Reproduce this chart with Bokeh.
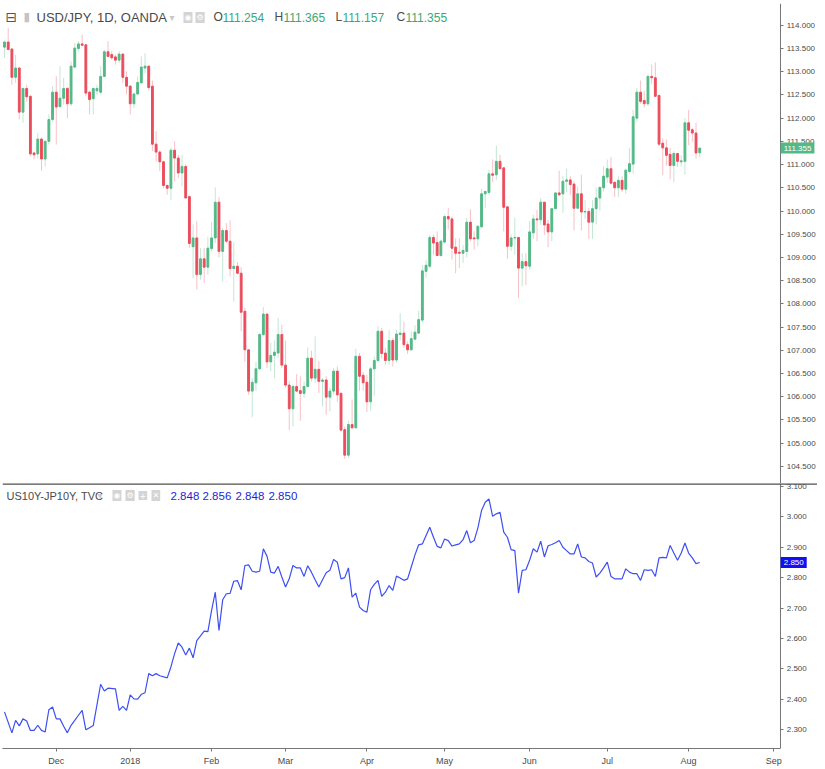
from bokeh.plotting import figure
from bokeh.models import (ColumnDataSource, Range1d, FixedTicker, NumeralTickFormatter,
                          Label, Span)
from bokeh.layouts import column
from bokeh.embed import file_html
from bokeh.resources import INLINE

# ---------------- data ----------------
opens = [113.53, 113.64, 113.49, 112.88, 113.08, 112.13, 112.64, 112.47, 111.25, 111.23,
         111.55, 111.12, 111.50, 111.97, 112.56, 112.25, 112.43, 112.64, 112.31, 113.10,
         113.50, 113.60, 113.58, 112.56, 112.42, 112.59, 112.56, 112.90, 113.43, 113.37,
         113.32, 113.25, 113.38, 112.88, 112.69, 112.31, 112.52, 112.76, 113.08, 113.12,
         112.69, 111.44, 111.27, 111.06, 110.55, 110.49, 111.31, 111.14, 110.82, 110.96,
         110.31, 109.23, 109.42, 108.63, 108.97, 108.79, 109.19, 109.42, 110.19, 109.13,
         109.58, 109.35, 108.76, 108.81, 108.66, 107.84, 107.01, 106.12, 106.30, 106.60,
         107.34, 107.78, 106.75, 106.89, 106.94, 107.34, 106.68, 106.25, 105.74, 106.22,
         106.13, 106.07, 106.22, 106.83, 106.40, 106.59, 106.33, 106.36, 105.99, 106.12,
         106.55, 106.07, 105.29, 104.74, 105.40, 105.33, 106.87, 106.46, 106.31, 105.89,
         106.60, 106.78, 107.41, 106.94, 106.78, 107.21, 106.79, 107.34, 107.37, 107.12,
         107.01, 107.24, 107.37, 107.65, 108.70, 108.81, 109.43, 109.32, 109.04, 109.33,
         109.88, 109.83, 109.22, 109.11, 109.09, 109.13, 109.76, 109.42, 109.40, 109.66,
         110.37, 110.40, 110.80, 110.78, 111.07, 110.93, 110.09, 109.24, 109.42, 109.43,
         108.77, 108.91, 108.81, 109.53, 109.83, 109.81, 110.19, 109.72, 109.55, 110.05,
         110.39, 110.37, 110.64, 110.67, 110.58, 110.06, 110.37, 109.98, 109.99, 109.76,
         110.05, 110.28, 110.50, 110.73, 110.91, 110.62, 110.50, 110.66, 110.47, 110.85,
         111.01, 112.00, 112.56, 112.38, 112.31, 112.90, 112.87, 112.49, 111.46, 111.36,
         111.22, 110.98, 111.24, 111.06, 111.07, 111.90, 111.75, 111.68, 111.254]
highs = [113.67, 113.94, 113.50, 113.37, 113.10, 112.66, 112.72, 112.50, 111.27, 111.68,
         111.58, 111.52, 112.08, 112.69, 112.90, 113.12, 112.87, 112.67, 113.22, 113.62,
         113.66, 113.80, 113.60, 112.58, 112.66, 112.72, 113.12, 113.47, 113.66, 113.44,
         113.37, 113.44, 113.40, 113.01, 112.71, 112.55, 112.90, 113.33, 113.40, 113.14,
         112.81, 111.72, 111.30, 111.08, 110.57, 111.36, 111.50, 111.21, 111.21, 111.00,
         110.33, 109.71, 109.78, 109.20, 109.20, 109.45, 109.76, 110.51, 110.30, 109.63,
         109.74, 109.80, 109.33, 108.90, 108.79, 107.92, 107.01, 106.40, 106.75, 107.37,
         107.93, 107.78, 107.16, 107.21, 107.70, 107.55, 107.21, 106.33, 106.26, 106.49,
         106.44, 106.33, 107.06, 106.99, 107.30, 106.76, 106.40, 106.44, 106.20, 106.62,
         106.65, 106.10, 105.36, 105.48, 105.94, 107.03, 106.94, 106.53, 106.47, 106.65,
         106.87, 107.52, 107.48, 107.05, 107.43, 107.26, 107.44, 107.80, 107.62, 107.19,
         107.41, 107.54, 107.85, 108.84, 108.95, 109.49, 109.49, 109.56, 109.38, 109.92,
         110.06, 109.88, 109.41, 109.41, 109.27, 109.85, 110.04, 109.56, 109.70, 110.48,
         110.44, 110.89, 111.11, 111.41, 111.21, 110.93, 110.09, 109.49, 109.85, 109.43,
         109.09, 109.09, 109.78, 109.92, 110.03, 110.28, 110.19, 109.81, 110.05, 110.40,
         110.87, 110.75, 110.91, 110.75, 110.64, 110.53, 110.78, 110.23, 110.06, 110.23,
         110.51, 110.51, 110.96, 111.11, 111.16, 110.62, 110.75, 110.75, 110.91, 111.36,
         112.18, 112.65, 112.81, 112.59, 112.94, 113.15, 113.20, 112.49, 111.56, 111.54,
         111.36, 111.29, 111.25, 111.20, 112.00, 112.18, 111.79, 111.90, 111.365]
lows = [113.30, 113.46, 112.72, 112.76, 111.97, 111.90, 112.36, 111.18, 111.11, 111.14,
        110.87, 110.96, 111.43, 111.93, 111.43, 112.22, 112.29, 112.00, 112.26, 113.08,
        113.44, 113.55, 112.47, 112.08, 112.08, 112.50, 112.51, 112.88, 113.32, 113.26,
        113.15, 113.19, 112.76, 112.51, 112.08, 112.22, 112.50, 112.75, 112.97, 112.60,
        111.29, 111.07, 110.86, 110.49, 110.35, 110.24, 110.64, 110.71, 110.53, 110.26,
        109.20, 108.56, 108.31, 108.52, 108.45, 108.63, 109.13, 109.31, 109.00, 108.48,
        109.31, 108.59, 108.05, 108.64, 107.41, 106.75, 106.04, 105.56, 106.13, 106.58,
        107.30, 106.62, 106.55, 106.40, 106.83, 106.62, 106.19, 105.28, 105.36, 106.10,
        105.48, 105.97, 106.20, 106.33, 106.30, 106.08, 105.79, 105.61, 105.69, 106.04,
        105.89, 105.25, 104.66, 104.68, 105.31, 105.31, 106.13, 106.13, 105.67, 105.70,
        106.01, 106.75, 106.82, 106.69, 106.69, 106.65, 106.73, 107.21, 107.05, 106.92,
        106.99, 107.21, 107.35, 107.60, 108.56, 108.77, 109.06, 109.04, 109.02, 109.31,
        109.60, 108.95, 108.66, 108.77, 108.88, 109.00, 109.35, 109.17, 109.24, 109.63,
        110.06, 110.35, 110.62, 110.67, 110.90, 109.56, 108.97, 109.14, 109.06, 108.13,
        108.38, 108.40, 108.74, 109.40, 109.35, 109.70, 109.49, 109.22, 109.35, 110.05,
        110.32, 109.96, 110.41, 110.35, 109.58, 110.06, 109.58, 109.83, 109.40, 109.40,
        109.71, 110.01, 110.42, 110.60, 110.57, 110.30, 110.30, 110.41, 110.37, 110.80,
        110.80, 111.93, 112.31, 112.23, 112.26, 112.74, 112.47, 111.40, 110.77, 110.98,
        110.68, 110.62, 110.96, 110.96, 110.78, 111.42, 111.50, 111.13, 111.157]
closes = [113.64, 113.48, 112.88, 113.08, 112.13, 112.64, 112.46, 111.23, 111.21, 111.55,
          111.12, 111.50, 111.97, 112.56, 112.24, 112.43, 112.64, 112.31, 113.12, 113.51,
          113.60, 113.57, 112.54, 112.40, 112.64, 112.64, 112.90, 113.43, 113.33, 113.30,
          113.25, 113.38, 112.88, 112.69, 112.31, 112.52, 112.77, 113.10, 113.12, 112.66,
          111.44, 111.27, 111.06, 110.55, 110.49, 111.31, 111.14, 110.82, 110.96, 110.28,
          109.30, 109.42, 108.63, 108.97, 108.79, 109.20, 109.42, 110.19, 109.13, 109.58,
          109.35, 108.76, 108.81, 108.66, 107.82, 107.01, 106.12, 106.31, 106.60, 107.34,
          107.78, 106.75, 106.89, 106.96, 107.34, 106.68, 106.25, 105.74, 106.22, 106.12,
          106.07, 106.22, 106.83, 106.40, 106.59, 106.33, 106.36, 105.99, 106.12, 106.55,
          106.04, 105.28, 104.74, 105.40, 105.33, 106.87, 106.44, 106.30, 105.89, 106.60,
          106.78, 107.41, 106.93, 106.78, 107.21, 106.79, 107.35, 107.37, 107.12, 107.01,
          107.25, 107.39, 107.66, 108.71, 108.83, 109.43, 109.31, 109.04, 109.35, 109.88,
          109.83, 109.20, 109.09, 109.09, 109.15, 109.76, 109.40, 109.40, 109.67, 110.37,
          110.42, 110.80, 110.77, 111.07, 110.91, 110.08, 109.24, 109.42, 109.43, 108.77,
          108.91, 108.82, 109.55, 109.83, 109.81, 110.19, 109.70, 109.55, 110.05, 110.39,
          110.35, 110.64, 110.67, 110.57, 110.06, 110.37, 109.98, 109.99, 109.76, 110.05,
          110.28, 110.51, 110.75, 110.91, 110.60, 110.50, 110.66, 110.47, 110.88, 111.02,
          112.03, 112.56, 112.36, 112.31, 112.90, 112.87, 112.47, 111.44, 111.36, 111.20,
          110.98, 111.24, 111.07, 111.08, 111.90, 111.74, 111.68, 111.25, 111.355]

spread_idx = [0, 2, 3, 4, 5, 6, 7, 8, 9, 10, 11, 12, 13, 14, 15, 16, 17, 18, 19, 20,
              21, 22, 23, 24, 26, 27, 28, 30, 31, 32, 33, 34, 35, 36, 37, 38, 39, 40, 41, 42,
              44, 45, 46, 47, 48, 49, 50, 51, 52, 53, 54, 55, 56, 57, 58, 59, 60, 61, 62, 63,
              64, 65, 66, 67, 68, 69, 70, 71, 72, 73, 74, 75, 76, 77, 78, 79, 80, 81, 82, 83,
              84, 85, 86, 87, 88, 89, 90, 91, 92, 93, 94, 95, 96, 97, 98, 99, 100, 101, 102, 103,
              104, 105, 106, 107, 108, 109, 110, 111, 112, 113, 114, 115, 116, 117, 118, 119,
              120, 121, 122, 123, 124, 125, 126, 127, 128, 129, 130, 131, 132, 133, 134, 135,
              136, 137, 138, 139, 140, 141, 142, 143, 144, 145, 146, 147, 148, 149, 150, 151,
              152, 153, 154, 155, 156, 157, 158, 159, 160, 161, 162, 163, 164, 165, 166, 167,
              168, 169, 170, 171, 172, 173, 174, 175, 176, 177, 178, 179, 180, 181, 182, 183,
              184, 185, 186, 187, 188]
spread_val = [2.358, 2.289, 2.330, 2.312, 2.335, 2.328, 2.297, 2.297, 2.314, 2.297,
              2.292, 2.365, 2.374, 2.335, 2.335, 2.311, 2.289, 2.314, 2.330, 2.347,
              2.363, 2.299, 2.306, 2.313, 2.449, 2.427, 2.436, 2.434, 2.363, 2.376,
              2.363, 2.414, 2.401, 2.400, 2.416, 2.421, 2.484, 2.477, 2.484, 2.477,
              2.470, 2.506, 2.550, 2.585, 2.571, 2.545, 2.568, 2.536, 2.593, 2.608,
              2.624, 2.622, 2.692, 2.752, 2.626, 2.727, 2.747, 2.748, 2.788, 2.790,
              2.760, 2.840, 2.842, 2.821, 2.818, 2.821, 2.895, 2.870, 2.818, 2.815,
              2.837, 2.802, 2.769, 2.796, 2.840, 2.832, 2.832, 2.804, 2.839, 2.818,
              2.793, 2.769, 2.793, 2.816, 2.824, 2.860, 2.851, 2.796, 2.800, 2.832,
              2.736, 2.749, 2.703, 2.692, 2.686, 2.760, 2.778, 2.791, 2.738, 2.752,
              2.774, 2.758, 2.805, 2.799, 2.791, 2.796, 2.835, 2.875, 2.908, 2.911,
              2.939, 2.966, 2.933, 2.903, 2.898, 2.927, 2.922, 2.904, 2.908, 2.911,
              2.925, 2.955, 2.915, 2.922, 2.963, 3.021, 3.048, 3.059, 3.002, 3.010,
              3.015, 2.950, 2.933, 2.892, 2.889, 2.749, 2.824, 2.826, 2.857, 2.895,
              2.884, 2.920, 2.868, 2.905, 2.909, 2.915, 2.922, 2.900, 2.889, 2.878,
              2.878, 2.911, 2.868, 2.865, 2.853, 2.848, 2.802, 2.815, 2.832, 2.851,
              2.804, 2.796, 2.796, 2.796, 2.829, 2.818, 2.813, 2.813, 2.791, 2.826,
              2.824, 2.826, 2.804, 2.865, 2.867, 2.865, 2.906, 2.881, 2.857, 2.881,
              2.914, 2.881, 2.865, 2.846, 2.850]

month_ticks = [14, 34, 56, 76, 98, 119, 142, 163, 185, 208]
month_labels = ["Dec", "2018", "Feb", "Mar", "Apr", "May", "Jun", "Jul", "Aug", "Sep"]
price_ticks = [104.5, 105.0, 105.5, 106.0, 106.5, 107.0, 107.5, 108.0, 108.5, 109.0,
               109.5, 110.0, 110.5, 111.0, 111.5, 112.0, 112.5, 113.0, 113.5, 114.0]
spread_ticks = [2.3, 2.4, 2.5, 2.6, 2.7, 2.8, 2.9, 3.0, 3.1]

last_ohlc = ["111.254", "111.365", "111.157", "111.355"]
spread_ohlc = ["2.848", "2.856", "2.848", "2.850"]

# ---------------- styles ----------------
UP = "#53b987"
DOWN = "#eb4d5c"
AX = "#777777"
TXT = "#4a4a4a"
BLUE_LINE = "#3d4ff2"
BLUE_TXT = "#1f1fd6"
FONT = "Liberation Sans"

AXIS_AT = 209.9            # bar position where the price scale sits
x_rng = Range1d(-0.54, 219.85)

p1 = figure(frame_width=815, frame_height=480, x_range=x_rng,
            y_range=Range1d(104.13, 114.47), output_backend="svg",
            toolbar_location=None, y_axis_location="right", x_axis_location=None,
            min_border_left=2, min_border_top=3, min_border_bottom=0,
            min_border_right=0)
p2 = figure(frame_width=815, frame_height=265, x_range=x_rng,
            y_range=Range1d(2.2375, 3.1099), output_backend="svg",
            toolbar_location=None, y_axis_location="right",
            min_border_left=2, min_border_top=0, min_border_bottom=0,
            min_border_right=0)

for p in (p1, p2):
    p.grid.visible = False
    p.outline_line_color = None
    p.background_fill_color = "white"
    p.border_fill_color = "white"
    for ax in p.yaxis:
        ax.fixed_location = AXIS_AT
        ax.formatter = NumeralTickFormatter(format="0.000")
        ax.major_label_text_font_size = "8px"
        ax.major_label_text_font = FONT
        ax.major_label_text_color = TXT
        ax.axis_line_color = AX
        ax.major_tick_line_color = AX
        ax.major_tick_out = 3
        ax.major_tick_in = 0
        ax.minor_tick_line_color = None
        ax.major_label_standoff = 3

p1.yaxis.ticker = FixedTicker(ticks=price_ticks)
p2.yaxis.ticker = FixedTicker(ticks=spread_ticks)

xa = p2.xaxis[0]
xa.ticker = FixedTicker(ticks=month_ticks)
xa.major_label_overrides = {t: l for t, l in zip(month_ticks, month_labels)}
xa.major_label_text_font_size = "9px"
xa.major_label_text_font = FONT
xa.major_label_text_color = TXT
xa.axis_line_color = AX
xa.major_tick_line_color = AX
xa.major_tick_out = 3
xa.major_tick_in = 0
xa.minor_tick_line_color = None
xa.major_label_standoff = 4
xa.bounds = (-0.54, AXIS_AT)

# ---------------- candles ----------------
up = dict(x=[], o=[], h=[], l=[], c=[])
dn = dict(x=[], o=[], h=[], l=[], c=[])
for i, (o, h, l, c) in enumerate(zip(opens, highs, lows, closes)):
    d = up if c >= o else dn
    d["x"].append(i); d["o"].append(o); d["h"].append(h); d["l"].append(l); d["c"].append(c)

for d, col in ((up, UP), (dn, DOWN)):
    src = ColumnDataSource(d)
    p1.segment(x0="x", y0="h", x1="x", y1="l", source=src, line_color=col,
               line_alpha=0.35, line_width=1)
    p1.vbar(x="x", width=0.5, top="o", bottom="c", source=src, fill_color=col,
            line_color=col, line_width=1)

# ---------------- spread line ----------------
p2.line(spread_idx, spread_val, line_color=BLUE_LINE, line_width=1.2)

# separator between panes
p2.add_layout(Span(location=3.1099, dimension="width", line_color="#505050", line_width=2.5))

# ---------------- header texts ----------------
def lab(p, x, y, text, color=TXT, size="12px", bg=None, pad=0, font=FONT):
    kw = {}
    if bg is not None:
        kw["background_fill_color"] = bg
        kw["padding"] = pad
    p.add_layout(Label(x=x, y=y, x_units="screen", text=text, text_color=color,
                       text_font_size=size, text_font=font, text_baseline="middle", **kw))

ty = 114.17
lab(p1, 3, ty, "⊟", color="#555555", size="14px", font="DejaVu Sans")
lab(p1, 21, ty, "▮", color="#c4c4c4", size="12px", font="DejaVu Sans")
lab(p1, 34, ty, "USD/JPY, 1D, OANDA", size="13px")
lab(p1, 167, ty, "▾", color="#c8c8c8", size="10px", font="DejaVu Sans")
lab(p1, 181, ty, "◉", color="white", size="8px", bg="#d4d4d4", pad=1, font="DejaVu Sans")
lab(p1, 193, ty, "⚙", color="white", size="8px", bg="#d4d4d4", pad=1, font="DejaVu Sans")
for xx, letter, val in zip([211, 272, 333, 394], ["O", "H", "L", "C"], last_ohlc):
    lab(p1, xx, ty, letter, size="12px")
    lab(p1, xx + (9 if letter in "OHC" else 7), ty, val, color="#3aa874", size="12px")

# last price tag on the price scale
p1.add_layout(Label(x=AXIS_AT, y=closes[-1], text="111.355",
                    text_color="white", text_font_size="8px", text_font=FONT,
                    text_baseline="middle", background_fill_color=UP, padding=3))

sy = 3.070
lab(p2, 4, sy, "US10Y-JP10Y, TVC", size="11px")
lab(p2, 95, sy, "▾", color="#c8c8c8", size="10px", font="DejaVu Sans")
for xx, g in zip([110, 123, 136, 149], ["◉", "⚙", "+", "✕"]):
    lab(p2, xx, sy, g, color="white", size="8px", bg="#d4d4d4", pad=1, font="DejaVu Sans")
for xx, val in zip([168, 200, 233, 266], spread_ohlc):
    lab(p2, xx, sy, val, color=BLUE_TXT, size="11.5px")

p2.add_layout(Label(x=AXIS_AT, y=spread_val[-1], text="2.850",
                    text_color="white", text_font_size="8px", text_font=FONT,
                    text_baseline="middle", background_fill_color="#1010f5", padding=3))

layout = column(p1, p2, spacing=0)
open("out.html", "w").write(file_html(layout, INLINE, title="USD/JPY"))
